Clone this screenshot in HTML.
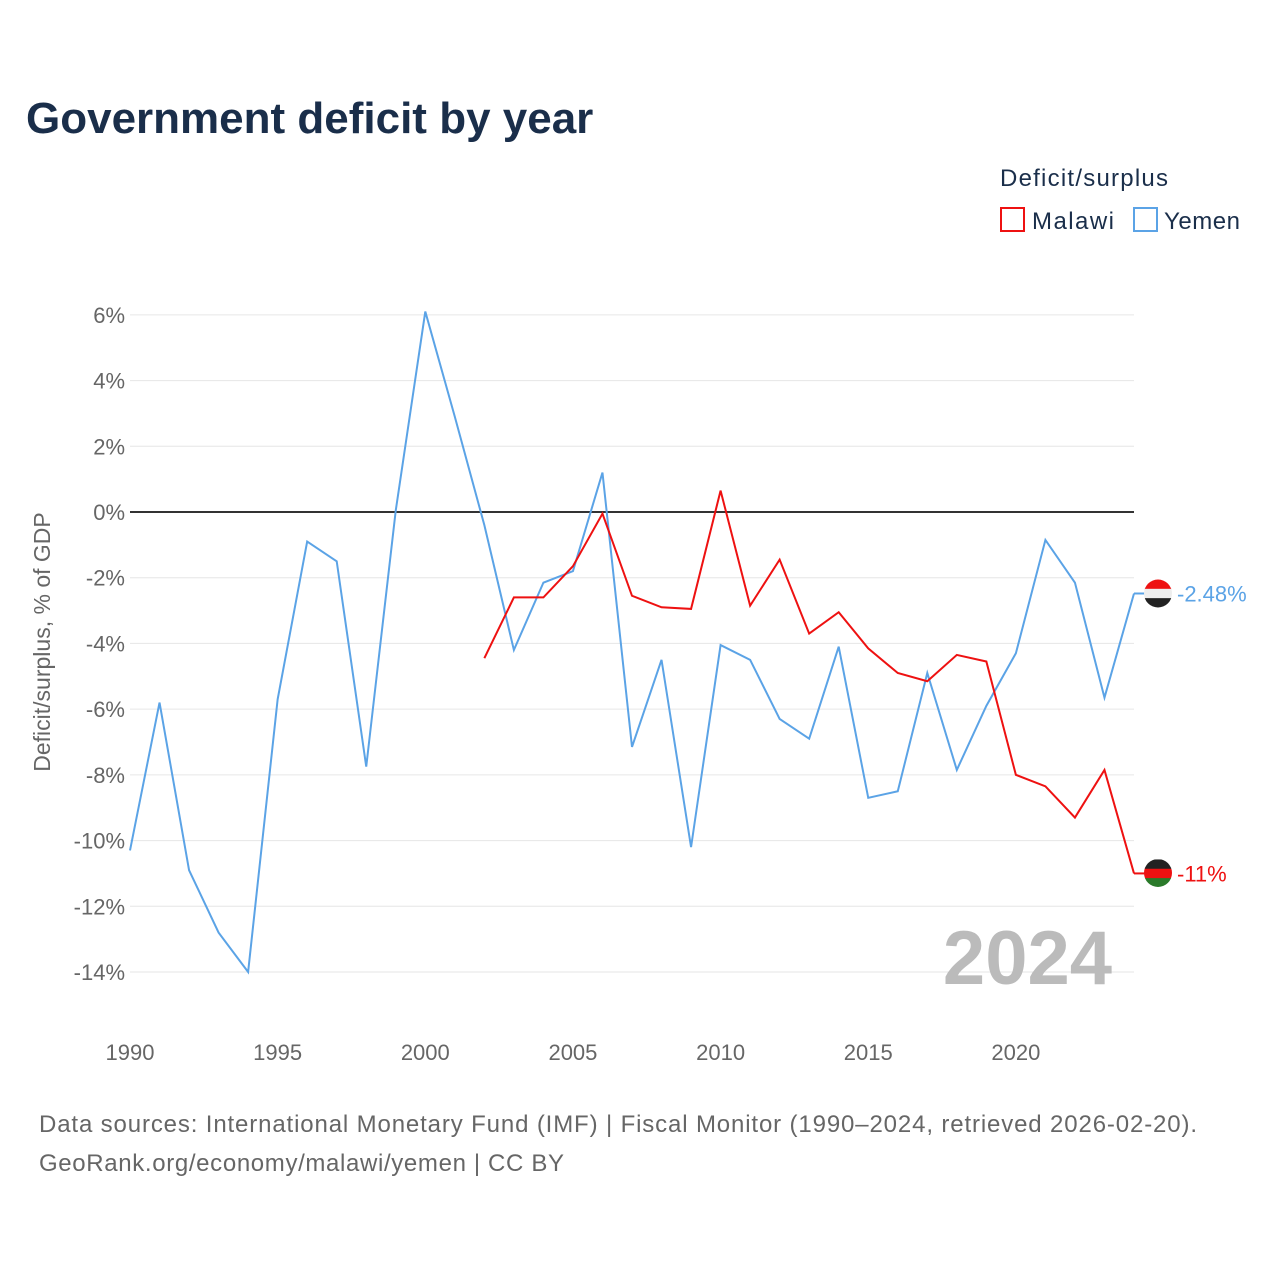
<!DOCTYPE html>
<html><head><meta charset="utf-8">
<style>
body{margin:0;background:#fff;font-family:"Liberation Sans",sans-serif;}
</style></head>
<body>
<svg id="chart" width="1280" height="1280" xmlns="http://www.w3.org/2000/svg" font-family="Liberation Sans, sans-serif">
<defs><clipPath id="cy"><circle cx="1158" cy="593.5" r="14"/></clipPath><clipPath id="cm"><circle cx="1158" cy="873" r="14"/></clipPath></defs>
<rect width="1280" height="1280" fill="#fff"/>
<text x="26" y="133" font-size="44" font-weight="bold" fill="#1a2e4a">Government deficit by year</text>
<text x="1000" y="186" font-size="24" fill="#1a2e4a" textLength="168">Deficit/surplus</text>
<g><rect x="1001" y="208" width="23" height="23" fill="none" stroke="#ee1111" stroke-width="2"/><text x="1032" y="229" font-size="24" fill="#1a2e4a" textLength="82">Malawi</text></g>
<g><rect x="1134" y="208" width="23" height="23" fill="none" stroke="#5ba3e6" stroke-width="2"/><text x="1164" y="229" font-size="24" fill="#1a2e4a" textLength="76">Yemen</text></g>
<text transform="translate(50,642) rotate(-90)" text-anchor="middle" font-size="23" fill="#666">Deficit/surplus, % of GDP</text>
<g id="grid"></g><g id="series"></g>
<text x="1112" y="984" text-anchor="end" font-size="76" font-weight="bold" fill="#bbb">2024</text>
<text x="39" y="1132" font-size="24" fill="#666" textLength="1158">Data sources: International Monetary Fund (IMF) | Fiscal Monitor (1990–2024, retrieved 2026-02-20).</text>
<text x="39" y="1171" font-size="24" fill="#666" textLength="525">GeoRank.org/economy/malawi/yemen | CC BY</text>
</svg>
<script>
const yemenYears=[1990,1991,1992,1993,1994,1995,1996,1997,1998,1999,2000,2001,2002,2003,2004,2005,2006,2007,2008,2009,2010,2011,2012,2013,2014,2015,2016,2017,2018,2019,2020,2021,2022,2023,2024];
const yemenValues=[-10.3,-5.8,-10.9,-12.8,-14.0,-5.7,-0.9,-1.5,-7.75,0.05,6.1,2.9,-0.4,-4.2,-2.15,-1.8,1.2,-7.15,-4.5,-10.2,-4.05,-4.5,-6.3,-6.9,-4.1,-8.7,-8.5,-4.9,-7.85,-5.9,-4.3,-0.85,-2.15,-5.65,-2.48];
const malawiYears=[2002,2003,2004,2005,2006,2007,2008,2009,2010,2011,2012,2013,2014,2015,2016,2017,2018,2019,2020,2021,2022,2023,2024];
const malawiValues=[-4.45,-2.6,-2.6,-1.65,-0.05,-2.55,-2.9,-2.95,0.65,-2.85,-1.45,-3.7,-3.05,-4.15,-4.9,-5.15,-4.35,-4.55,-8.0,-8.35,-9.3,-7.85,-11.0];
const yTicks=[6,4,2,0,-2,-4,-6,-8,-10,-12,-14];
const xTicks=[1990,1995,2000,2005,2010,2015,2020];
const NS="http://www.w3.org/2000/svg";
const x=v=>130+(v-1990)*(1134-130)/34;
const y=v=>512-v*(972-512)/14;
function mk(tag,attrs,parent){const e=document.createElementNS(NS,tag);for(const k in attrs)e.setAttribute(k,attrs[k]);parent.appendChild(e);return e;}
const grid=document.getElementById('grid'),ser=document.getElementById('series');
yTicks.forEach(t=>{
 const l=mk('line',{x1:130,x2:1134,y1:y(t),y2:y(t),stroke:t===0?'#333':'#e6e6e6','stroke-width':t===0?2:1},grid);
 
 
 const tx=mk('text',{x:125,y:y(t)+8,'text-anchor':'end','font-size':22,fill:'#666'},grid);
 tx.textContent=t+'%';
 
 
});
xTicks.forEach(t=>{
 const tx=mk('text',{x:x(t),y:1060,'text-anchor':'middle','font-size':22,fill:'#666'},grid);
 tx.textContent=t;
 
 
});
function line(xs,vs,col,name,bands,clip){
 const p=mk('polyline',{points:xs.map((d,i)=>x(d)+','+y(vs[i])).join(' '),fill:'none',stroke:col,'stroke-width':2},ser);
 
 
 const last=vs[vs.length-1],ly=y(last);
 mk('line',{x1:x(xs[xs.length-1]),x2:1146,y1:ly,y2:ly,stroke:col,'stroke-width':2},ser);
 const g=mk('g',{'clip-path':'url(#'+clip+')'},ser);
 
 
 bands.forEach((b,i)=>mk('rect',{x:1144,y:ly-14+i*28/3,width:28,height:28/3+0.5,fill:b},g));
 const t=mk('text',{x:1177,y:ly+8,'font-size':22,fill:col},ser);
 t.textContent=(Math.abs(last)>=10?Math.round(last):last)+'%';
 
 
}
line(yemenYears,yemenValues,'#5ba3e6','yemen-line',['#ee1111','#eeeeee','#222'],'cy');
line(malawiYears,malawiValues,'#ee1111','malawi-line',['#222','#ee1111','#2a7a2a'],'cm');
</script>
</body></html>
